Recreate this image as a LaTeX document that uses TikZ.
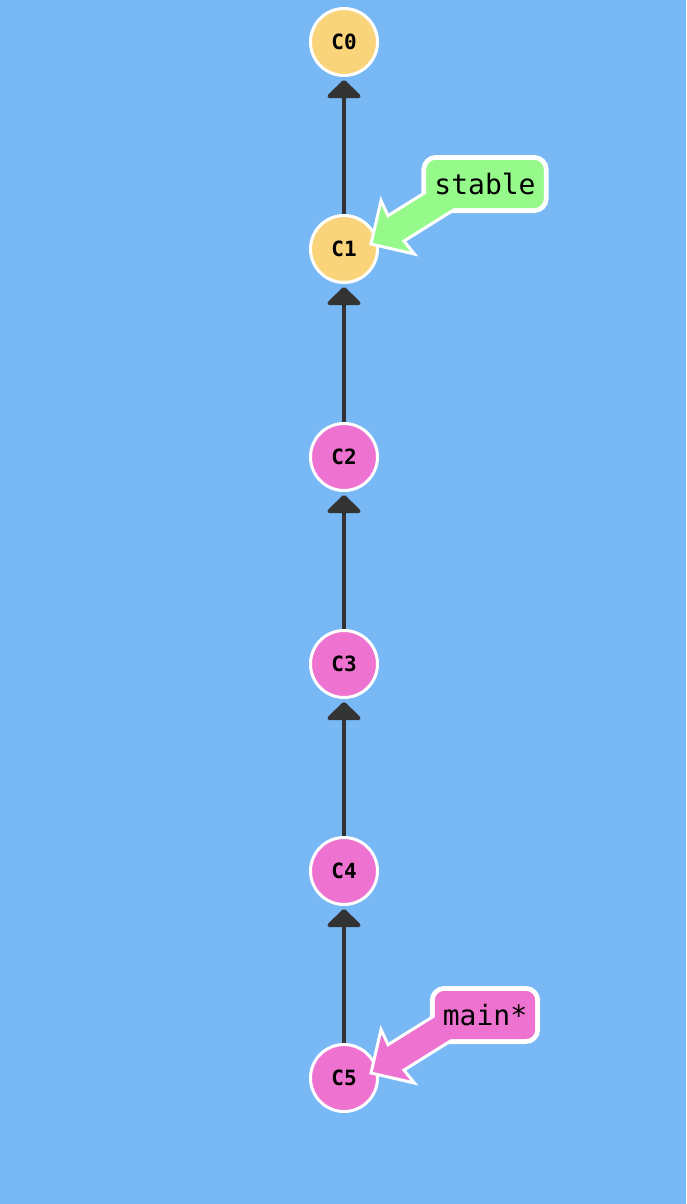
\documentclass[tikz,border=0pt]{standalone}
\usepackage{fontspec}
\setmonofont{DejaVu Sans Mono}
\usepackage{tikz}
\usetikzlibrary{arrows.meta,calc,positioning}
\definecolor{bgblue}{HTML}{77B8F5}
\definecolor{oldyellow}{HTML}{F9D47A}
\definecolor{newpink}{HTML}{EE72CF}
\definecolor{stablegreen}{HTML}{96FA8B}
\definecolor{edgegray}{HTML}{333333}
\tikzset{
  labelbox/.style={rectangle, draw=white, line width=5pt, rounded corners=12pt,
    minimum height=53pt, inner xsep=10.5pt, inner ysep=0pt,
    font=\ttfamily\fontsize{28}{28}\selectfont},
  labelfill/.style={rectangle, draw=none, rounded corners=9.5pt,
    minimum height=48pt, inner xsep=8pt, inner ysep=0pt,
    font=\ttfamily\fontsize{28}{28}\selectfont},
  fatarrow/.style={draw=white, line width=3pt, miter limit=10}
}

\begin{document}
\begin{tikzpicture}[x=1pt, y=1pt]
   \fill[bgblue] (0,0) rectangle (686,-1204);
   \begin{scope}[every node/.style={circle, draw=white, line width=3pt, minimum size=67pt, inner sep=0pt, fill=newpink, font=\ttfamily\bfseries\fontsize{21}{21}\selectfont}]
    \node (c0) [fill=oldyellow] at (344,-42) {C0};
    \node (c1) [fill=oldyellow] at (344,-249) {C1};
    \node (c2) at (344,-457) {C2};
    \node (c3) at (344,-664) {C3};
    \node (c4) at (344,-871) {C4};
    \node (c5) at (344,-1078) {C5};
   \end{scope}
   \begin{scope}[every edge/.style={draw=edgegray, line width=4pt, -{Triangle[width=38pt,length=19pt,round]}, shorten >=3pt}]
    \draw (c1) edge (c0);
    \draw (c2) edge (c1);
    \draw (c3) edge (c2);
    \draw (c4) edge (c3);
    \draw (c5) edge (c4);
   \end{scope}
   % branch labels
   \node (stable) [labelbox, fill=stablegreen] at (485,-184) {stable};
   \node (main) [labelbox, fill=newpink] at (485,-1015) {main*};
   \coordinate (stable tip) at ($(c1)+(27,5)$);
   \coordinate (main tip) at ($(c5)+(27,5)$);
   \begin{scope}[shift={(stable tip)}, rotate=212]
    \filldraw[fatarrow, fill=stablegreen] (0,0) -- (-31.5,31.5) -- (-29.5,15) -- (-100,15)
      -- (-100,-15) -- (-29.5,-15) -- (-31.5,-31.5) -- cycle;
   \end{scope}
   \begin{scope}[shift={(main tip)}, rotate=212]
    \filldraw[fatarrow, fill=newpink] (0,0) -- (-31.5,31.5) -- (-29.5,15) -- (-100,15)
      -- (-100,-15) -- (-29.5,-15) -- (-31.5,-31.5) -- cycle;
   \end{scope}
   \node [labelfill, fill=stablegreen] at (stable) {stable};
   \node [labelfill, fill=newpink] at (main) {main*};
\end{tikzpicture}
\end{document}
